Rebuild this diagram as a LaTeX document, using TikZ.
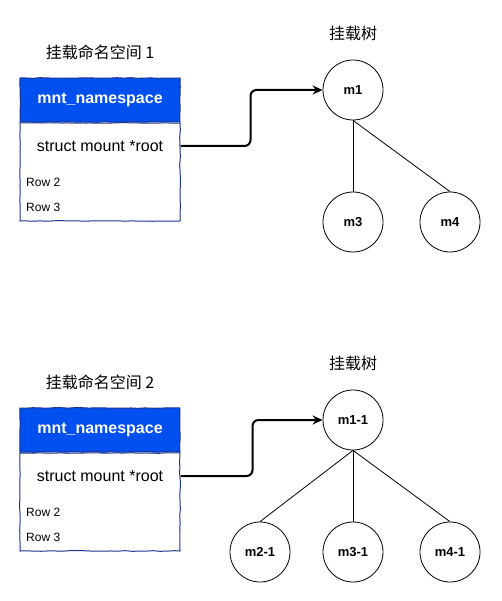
\documentclass[tikz,border=0pt]{standalone}
\usepackage{fontspec}
\setmainfont{Liberation Sans}
\newfontfamily\cjk{Noto Sans CJK SC}
\usetikzlibrary{positioning,arrows.meta,decorations.pathmorphing}
\definecolor{nsblue}{HTML}{0050EF}
\definecolor{nsline}{HTML}{1C3590}

\begin{document}
\begin{tikzpicture}[x=1pt, y=-1pt,
    sketch/.style={draw=nsline, line width=1pt, decorate,
        decoration={random steps, segment length=7pt, amplitude=0.35pt}},
    nshead/.style={sketch, fill=nsblue, text=white, minimum width=160pt,
        minimum height=44pt, inner sep=0pt, font=\fontsize{16}{19}\selectfont\bfseries},
    nsbody/.style={sketch, fill=white, minimum width=160pt, minimum height=98pt, inner sep=0pt},
    field/.style={font=\fontsize{16}{19}\selectfont, inner sep=0pt},
    rowtxt/.style={font=\fontsize{12}{14}\selectfont, anchor=west, inner sep=0pt},
    nstitle/.style={font=\cjk\fontsize{16}{19}\selectfont},
    mnode/.style={circle, draw, line width=0.8pt, minimum size=60pt, inner sep=0pt,
        font=\fontsize{13}{15}\selectfont\bfseries},
    ptr/.style={line width=2pt, rounded corners=6pt, -{Stealth[length=10pt, width=9pt]}},
    treeline/.style={line width=0.8pt}
]
    \useasboundingbox (0,0) rectangle (501,601);

    % TOP: namespace 1
    \begin{scope}
        \node[nstitle] (tA) at (100,52) {挂载命名空间 1};
        \node[nshead] (hdA) at (100,100) {mnt\_namespace};
        \node[nsbody, below=0pt of hdA] (bdA) {};
        \node[field] (rootA) at (100,146) {struct mount *root};
        \node[rowtxt] (r2A) at (26,182) {Row 2};
        \node[rowtxt] (r3A) at (26,207) {Row 3};

        % Mount tree
        \node[nstitle] (ttA) at (353,33) {挂载树};
        \node[mnode] (mA1) at (353,90) {m1};
        \node[mnode] (mA3) at (353,222) {m3};
        \node[mnode] (mA4) at (450,222) {m4};
        \draw[treeline] (mA1.south) -- (mA3.north);
        \draw[treeline] (mA1.south) -- (mA4.north);

        % root pointer
        \draw[ptr] (bdA.east |- rootA) -- ++(70,0) |- (mA1.west);
    \end{scope}

    % BOTTOM: namespace 2
    \begin{scope}[yshift=-330pt]
        \node[nstitle] (tB) at (100,52) {挂载命名空间 2};
        \node[nshead] (hdB) at (100,100) {mnt\_namespace};
        \node[nsbody, below=0pt of hdB] (bdB) {};
        \node[field] (rootB) at (100,146) {struct mount *root};
        \node[rowtxt] (r2B) at (26,182) {Row 2};
        \node[rowtxt] (r3B) at (26,207) {Row 3};

        % Mount tree
        \node[nstitle] (ttB) at (353,33) {挂载树};
        \node[mnode] (mB1) at (353,90) {m1-1};
        \node[mnode] (mB2) at (260,222) {m2-1};
        \node[mnode] (mB3) at (353,222) {m3-1};
        \node[mnode] (mB4) at (450,222) {m4-1};
        \draw[treeline] (mB1.south) -- (mB2.north);
        \draw[treeline] (mB1.south) -- (mB3.north);
        \draw[treeline] (mB1.south) -- (mB4.north);

        % root pointer
        \draw[ptr] (bdB.east |- rootB) -- ++(72,0) |- (mB1.west);
    \end{scope}
\end{tikzpicture}
\end{document}
